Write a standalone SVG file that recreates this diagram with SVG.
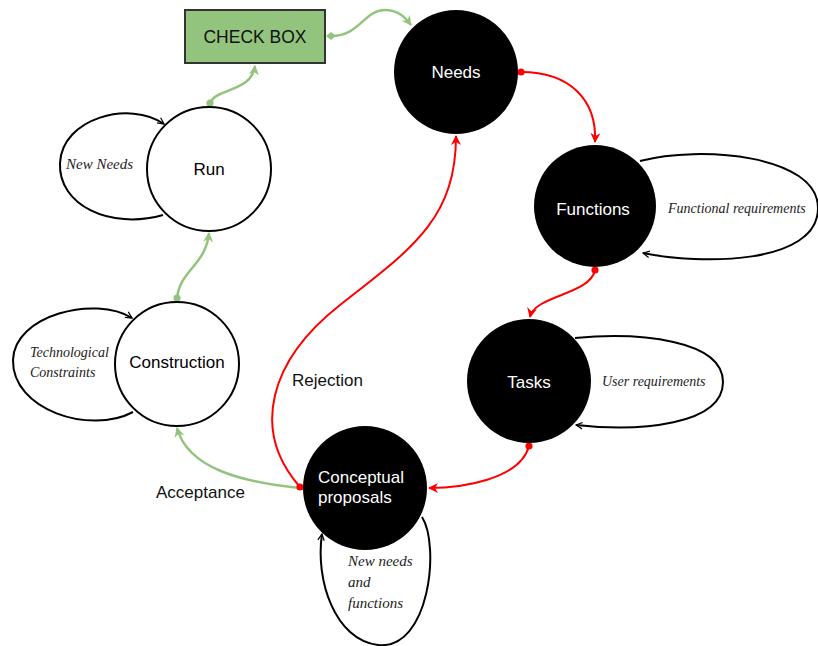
<svg xmlns="http://www.w3.org/2000/svg" width="818" height="646" viewBox="0 0 818 646">
<defs>
<style>
.bk{fill:#000;stroke:none}
.wc{fill:#fff;stroke:#000;stroke-width:2}
.nt{font-family:"Liberation Sans",Arial,sans-serif;font-size:17px;text-anchor:middle}
.wt{fill:#fff}
.it{font-family:"Liberation Serif","Times New Roman",serif;font-style:italic;font-size:15px;fill:#222}
.sm{font-size:14px}
.lb{font-family:"Liberation Sans",Arial,sans-serif;font-size:17px;fill:#111}
.loop{fill:none;stroke:#000;stroke-width:2;marker-end:url(#ab)}
.g{fill:none;stroke:#93c47d;stroke-width:2.5}
.r{fill:none;stroke:#ff0000;stroke-width:2}
</style>
<marker id="ab" viewBox="0 0 10 10" refX="9" refY="5" markerWidth="8" markerHeight="8" markerUnits="userSpaceOnUse" orient="auto">
<path d="M1,1 L9,5 L1,9" fill="none" stroke="#000" stroke-width="1.5"/>
</marker>
<marker id="ag" viewBox="0 0 10 10" refX="9" refY="5" markerWidth="10" markerHeight="10" markerUnits="userSpaceOnUse" orient="auto">
<path d="M0,0 L10,5 L0,10 L3,5 Z" fill="#93c47d"/>
</marker>
<marker id="ar" viewBox="0 0 10 10" refX="9" refY="5" markerWidth="10" markerHeight="10" markerUnits="userSpaceOnUse" orient="auto">
<path d="M0,0 L10,5 L0,10 L3,5 Z" fill="#ff0000"/>
</marker>
<marker id="dg" viewBox="0 0 10 10" refX="5" refY="5" markerWidth="8" markerHeight="8" markerUnits="userSpaceOnUse">
<circle cx="5" cy="5" r="4.5" fill="#93c47d"/>
</marker>
<marker id="mg" viewBox="0 0 10 10" refX="5" refY="5" markerWidth="10" markerHeight="10" markerUnits="userSpaceOnUse" orient="auto">
<path d="M0,5 L5,1 L10,5 L5,9 Z" fill="#93c47d"/>
</marker>
<marker id="dr" viewBox="0 0 10 10" refX="5" refY="5" markerWidth="8" markerHeight="8" markerUnits="userSpaceOnUse">
<circle cx="5" cy="5" r="4.5" fill="#ff0000"/>
</marker>
</defs>
<rect width="818" height="646" fill="#fff"/>

<g id="connectors">
<path class="g" d="M210,103 C216,88 252,92 255,66" marker-start="url(#dg)" marker-end="url(#ag)"/>
<path class="g" d="M331,36 C360,36 364,10 385,10 C398,10 405,17 411,25" marker-start="url(#mg)" marker-end="url(#ag)"/>
<path class="g" d="M177,298 C180,270 206,265 209,233" marker-start="url(#dg)" marker-end="url(#ag)"/>
<path class="g" d="M300,488 C240,482 188,468 177,428" marker-end="url(#ag)"/>
<path class="r" d="M521,72 C570,72 597,100 595,142" marker-start="url(#dr)" marker-end="url(#ar)"/>
<path class="r" d="M595,270 C590,295 535,295 530,317" marker-start="url(#dr)" marker-end="url(#ar)"/>
<path class="r" d="M529,446 C520,480 460,488 429,488" marker-start="url(#dr)" marker-end="url(#ar)"/>
<path class="r" d="M300,487 C250,430 270,360 340,305 C410,250 456,220 456,136" marker-start="url(#dr)" marker-end="url(#ar)"/>
<text class="lb" x="292" y="386">Rejection</text>
<text class="lb" x="156" y="498">Acceptance</text>
</g>

<g id="checkbox">
<rect x="185" y="10" width="140" height="53" fill="#93c47d" stroke="#333" stroke-width="2"/>
<text class="nt" x="255" y="43" fill="#111" style="font-size:17.5px">CHECK BOX</text>
</g>

<g id="run">
<path class="loop" d="M163,215 C110,230 58,205 60,163 C62,118 130,100 164,124"/>
<circle class="wc" cx="209" cy="169" r="62"/>
<text class="it" x="66" y="169">New Needs</text>
<text class="nt" x="209" y="175">Run</text>
</g>

<g id="construction">
<path class="loop" d="M133,412 C90,435 12,410 13,360 C14,315 95,295 132,318"/>
<circle class="wc" cx="177" cy="364" r="62"/>
<text class="it sm" x="30" y="357">Technological</text>
<text class="it sm" x="30" y="377">Constraints</text>
<text class="nt" x="177" y="368">Construction</text>
</g>

<g id="needs">
<circle class="bk" cx="456" cy="72" r="62"/>
<text class="nt wt" x="456" y="78">Needs</text>
</g>

<g id="functions">
<path class="loop" d="M640,161 C700,145 818,155 818,208 C818,265 700,265 643,253"/>
<circle class="bk" cx="595" cy="206" r="61"/>
<text class="nt wt" x="593" y="215">Functions</text>
<text class="it sm" x="668" y="213">Functional requirements</text>
</g>

<g id="tasks">
<path class="loop" d="M575,338 C640,332 723,340 723,382 C723,425 640,432 576,425"/>
<circle class="bk" cx="529" cy="381" r="62"/>
<text class="nt wt" x="529" y="388">Tasks</text>
<text class="it sm" x="602" y="386">User requirements</text>
</g>

<g id="conceptual">
<path class="loop" d="M422,517 C440,545 430,650 378,645 C335,640 315,580 322,534"/>
<circle class="bk" cx="365" cy="488" r="62"/>
<text class="nt wt" x="318" y="483" style="text-anchor:start">Conceptual</text>
<text class="nt wt" x="318" y="503" style="text-anchor:start">proposals</text>
<text class="it" x="348" y="566">New needs</text>
<text class="it" x="348" y="587">and</text>
<text class="it" x="348" y="608">functions</text>
</g>
</svg>
